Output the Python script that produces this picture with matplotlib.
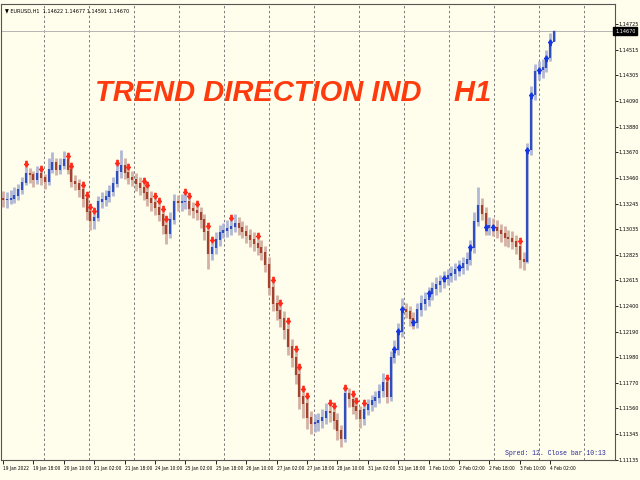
import matplotlib
matplotlib.use("Agg")
import matplotlib.pyplot as plt
from matplotlib.path import Path
from matplotlib.transforms import blended_transform_factory

# ---------------- data (EURUSD H1) ----------------
header_text = "\u25bc EURUSD,H1  1.14622 1.14677 1.14591 1.14670"
title_text = "TREND DIRECTION IND    H1"
status_text = "Spred: 12. Close bar 10:13"

first_open = 1.13290
closes = [
    1.13281, 1.13281, 1.13289, 1.13314, 1.13363, 1.13421, 1.13495, 1.13487, 1.13446, 1.13495,
    1.13462, 1.13429, 1.13528, 1.13585, 1.13528, 1.13561, 1.13610, 1.13528, 1.13429, 1.13413,
    1.13363, 1.13289, 1.13183, 1.13109, 1.13133, 1.13265, 1.13281, 1.13306, 1.13347, 1.13413,
    1.13512, 1.13561, 1.13503, 1.13462, 1.13446, 1.13413, 1.13380, 1.13339, 1.13289, 1.13257,
    1.13215, 1.13158, 1.13067, 1.13002, 1.13117, 1.13265, 1.13257, 1.13265, 1.13265, 1.13207,
    1.13191, 1.13174, 1.13117, 1.13018, 1.12837, 1.12886, 1.12952, 1.13010, 1.13026, 1.13043,
    1.13059, 1.13084, 1.13051, 1.13018, 1.12985, 1.12952, 1.12919, 1.12886, 1.12845, 1.12747,
    1.12557, 1.12426, 1.12368, 1.12303, 1.12212, 1.12072, 1.11982, 1.11842, 1.11653, 1.11595,
    1.11480, 1.11431, 1.11439, 1.11455, 1.11480, 1.11529, 1.11521, 1.11455, 1.11373, 1.11307,
    1.11678, 1.11636, 1.11571, 1.11538, 1.11472, 1.11546, 1.11587, 1.11620, 1.11645, 1.11702,
    1.11776, 1.11653, 1.11982, 1.12048, 1.12196, 1.12377, 1.12360, 1.12303, 1.12270, 1.12377,
    1.12426, 1.12459, 1.12508, 1.12549, 1.12582, 1.12607, 1.12632, 1.12656, 1.12673, 1.12706,
    1.12722, 1.12755, 1.12788, 1.12886, 1.13100, 1.13232, 1.13166, 1.13051, 1.13067, 1.13051,
    1.13026, 1.13002, 1.12969, 1.12961, 1.12936, 1.12895, 1.12788, 1.12771, 1.13692, 1.14145,
    1.14334, 1.14350, 1.14367, 1.14449, 1.14581, 1.14670,
]
highs = [
    1.1335, 1.1334, 1.1336, 1.1338, 1.1341, 1.1347, 1.1357, 1.1354, 1.1352, 1.1356,
    1.1353, 1.1349, 1.1362, 1.1367, 1.1362, 1.1362, 1.1368, 1.1364, 1.1356, 1.1348,
    1.1345, 1.1340, 1.1332, 1.1322, 1.1319, 1.1331, 1.1334, 1.1336, 1.1340, 1.1347,
    1.1358, 1.1369, 1.1362, 1.1355, 1.1352, 1.1350, 1.1347, 1.1343, 1.1340, 1.1335,
    1.1331, 1.1327, 1.1320, 1.1312, 1.1318, 1.1333, 1.1332, 1.1333, 1.1334, 1.1331,
    1.1326, 1.1324, 1.1322, 1.1316, 1.1306, 1.1295, 1.1301, 1.1307, 1.1309, 1.1311,
    1.1313, 1.1316, 1.1314, 1.1310, 1.1307, 1.1304, 1.1301, 1.1298, 1.1295, 1.1290,
    1.1281, 1.1262, 1.1249, 1.1243, 1.1236, 1.1228, 1.1213, 1.1205, 1.1190, 1.1172,
    1.1166, 1.1154, 1.1151, 1.1152, 1.1155, 1.1160, 1.1160, 1.1158, 1.1152, 1.1142,
    1.1173, 1.1173, 1.1168, 1.1162, 1.1158, 1.1160, 1.1164, 1.1167, 1.1170, 1.1176,
    1.1185, 1.1181, 1.1203, 1.1212, 1.1226, 1.1247, 1.1243, 1.1240, 1.1235, 1.1243,
    1.1249, 1.1252, 1.1256, 1.1260, 1.1264, 1.1266, 1.1269, 1.1271, 1.1273, 1.1276,
    1.1278, 1.1281, 1.1285, 1.1295, 1.1318, 1.1338, 1.1329, 1.1322, 1.1314, 1.1313,
    1.1311, 1.1308, 1.1306, 1.1303, 1.1302, 1.1299, 1.1294, 1.1285, 1.1375, 1.1422,
    1.1440, 1.1442, 1.1444, 1.1451, 1.1465, 1.14677,
]
lows = [
    1.1322, 1.1321, 1.1324, 1.1325, 1.1328, 1.1333, 1.1340, 1.1342, 1.1338, 1.1341,
    1.1340, 1.1337, 1.1340, 1.1350, 1.1348, 1.1349, 1.1353, 1.1349, 1.1338, 1.1336,
    1.1330, 1.1322, 1.1311, 1.1303, 1.1304, 1.1310, 1.1321, 1.1323, 1.1326, 1.1331,
    1.1338, 1.1346, 1.1345, 1.1341, 1.1339, 1.1335, 1.1332, 1.1328, 1.1323, 1.1319,
    1.1315, 1.1310, 1.1300, 1.1291, 1.1296, 1.1308, 1.1319, 1.1319, 1.1320, 1.1315,
    1.1313, 1.1311, 1.1305, 1.1295, 1.1271, 1.1278, 1.1283, 1.1290, 1.1296, 1.1297,
    1.1299, 1.1301, 1.1299, 1.1296, 1.1292, 1.1289, 1.1286, 1.1282, 1.1278, 1.1268,
    1.1249, 1.1236, 1.1229, 1.1223, 1.1213, 1.1200, 1.1190, 1.1176, 1.1155, 1.1148,
    1.1139, 1.1135, 1.1136, 1.1137, 1.1140, 1.1143, 1.1145, 1.1139, 1.1130, 1.1124,
    1.1128, 1.1157, 1.1151, 1.1147, 1.1140, 1.1142, 1.1150, 1.1154, 1.1157, 1.1160,
    1.1165, 1.1160, 1.1162, 1.1193, 1.1200, 1.1215, 1.1230, 1.1224, 1.1221, 1.1222,
    1.1232, 1.1237, 1.1240, 1.1245, 1.1249, 1.1252, 1.1255, 1.1258, 1.1260, 1.1262,
    1.1265, 1.1267, 1.1270, 1.1274, 1.1284, 1.1306, 1.1311, 1.1299, 1.1299, 1.1298,
    1.1296, 1.1293, 1.1290, 1.1289, 1.1287, 1.1283, 1.1272, 1.1270, 1.1276, 1.1365,
    1.1410, 1.1427, 1.1428, 1.1433, 1.1442, 1.14591,
]

x_labels = [
    "19 Jan 2022", "19 Jan 18:00", "20 Jan 10:00", "21 Jan 02:00", "21 Jan 18:00",
    "24 Jan 10:00", "25 Jan 02:00", "25 Jan 18:00", "26 Jan 10:00", "27 Jan 02:00",
    "27 Jan 18:00", "28 Jan 10:00", "31 Jan 02:00", "31 Jan 18:00", "1 Feb 10:00",
    "2 Feb 02:00", "2 Feb 18:00", "3 Feb 10:00", "4 Feb 02:00",
]
bars_per_label = 8

y_ticks = [1.11135, 1.11345, 1.11560, 1.11770, 1.11980, 1.12190, 1.12400, 1.12615,
           1.12825, 1.13035, 1.13245, 1.13460, 1.13670, 1.13880, 1.14090, 1.14305,
           1.14515, 1.14725]
current_price = 1.14670

red_arrow_bars = [6, 10, 17, 18, 21, 22, 23, 24, 30, 33, 37, 38, 40, 41, 42, 43, 48, 49,
                  51, 54, 55, 60, 67, 71, 73, 75, 77, 78, 79, 80, 86, 87, 90, 92, 93, 95,
                  101, 136]
blue_arrow_bars = [103, 104, 105, 108, 112, 116, 120, 123, 127, 129, 138, 139, 141, 143, 144]

# ---------------- style ----------------
BG = "#FFFEEC"
UP_BODY, UP_WICK = "#2f4fbf", "#a9b0d2"
DN_BODY, DN_WICK = "#a3422c", "#cfa99c"
SMALL = dict(family="DejaVu Sans", fontstretch="condensed")

fig = plt.figure(figsize=(6.4, 4.8), dpi=100, facecolor=BG)
ax = fig.add_axes([1 / 640, 20 / 480, 614 / 640, 456 / 480])
ax.set_facecolor(BG)

n = len(closes)
xs = list(range(n))
opens = [first_open] + closes[:-1]

up = [c >= o for o, c in zip(opens, closes)]
for flag, wc, bc in ((True, UP_WICK, UP_BODY), (False, DN_WICK, DN_BODY)):
    idx = [i for i in xs if up[i] == flag]
    ax.vlines(idx, [lows[i] for i in idx], [highs[i] for i in idx],
              colors=wc, lw=2.0, alpha=0.9, zorder=2)
    ax.vlines(idx, [min(opens[i], closes[i]) - 0.00004 for i in idx],
              [max(opens[i], closes[i]) + 0.00004 for i in idx],
              colors=bc, lw=1.6, zorder=3)

down_arrow = Path([(-0.22, 1.0), (0.22, 1.0), (0.22, 0.1), (0.6, 0.1), (0.0, -0.8),
                   (-0.6, 0.1), (-0.22, 0.1), (-0.22, 1.0)], closed=True)
up_arrow = Path([(x, -y) for x, y in down_arrow.vertices], closed=True)

ax.plot(red_arrow_bars, [highs[i] for i in red_arrow_bars], ls="none",
        marker=down_arrow, ms=4.5, color="#ff2a1a", mec="#ff2a1a", zorder=4)
ax.plot(blue_arrow_bars, [closes[i] for i in blue_arrow_bars], ls="none",
        marker=up_arrow, ms=4.5, color="#1536e0", mec="#1536e0", zorder=4)

# limits
xmin, xmax = -0.53, -0.53 + 614 / 3.8
ax.set_xlim(xmin, xmax)
ax.set_ylim(1.11133, 1.14893)

# vertical dashed grid
for k in range(13):
    gx = xmin + (43 + 45 * k) / 614 * (xmax - xmin)
    ax.axvline(gx, color="#7a7a7a", lw=0.7, ls=(0, (2.5, 2.5)), zorder=1)

# bid line
ax.axhline(current_price, color="#b4b4b4", lw=0.7, zorder=1)

# x ticks
ax.set_xticks([k * bars_per_label for k in range(len(x_labels))])
ax.set_xticklabels(x_labels, fontsize=3.5, ha="left", **SMALL)
ax.tick_params(axis="x", direction="out", length=3, width=0.6, pad=1.5, colors="#000000")

# y ticks on right
ax.yaxis.tick_right()
ax.set_yticks(y_ticks)
ax.set_yticklabels([f"{v:.5f}" for v in y_ticks], fontsize=4.0, **SMALL)
ax.tick_params(axis="y", direction="out", length=2.0, width=0.6, pad=0.8)

for s in ax.spines.values():
    s.set_color("#555555")
    s.set_linewidth(0.8)

# current price box
tr = blended_transform_factory(ax.transAxes, ax.transData)
ax.text(1.0, current_price, f"{current_price:.5f}", transform=tr, fontsize=4.0,
        color="white", va="center", ha="left",
        bbox=dict(boxstyle="square,pad=0.3", fc="black", ec="black"), zorder=6, **SMALL)

# texts
fig.text(5 / 640, 1 - 11 / 480, header_text, fontsize=4.0, va="center", ha="left", **SMALL)
fig.text(95 / 640, 1 - 93 / 480, title_text, fontsize=21, color="#ff3a0c",
         fontweight="bold", fontstyle="italic", va="center", ha="left",
         family=["Liberation Sans"])
ax.text(605 / 614, 3 / 456, status_text, transform=ax.transAxes, fontsize=4.7,
        color="#28289a", va="bottom", ha="right", family=["Liberation Mono"])

fig.savefig("out.png", dpi=100, facecolor=BG)
